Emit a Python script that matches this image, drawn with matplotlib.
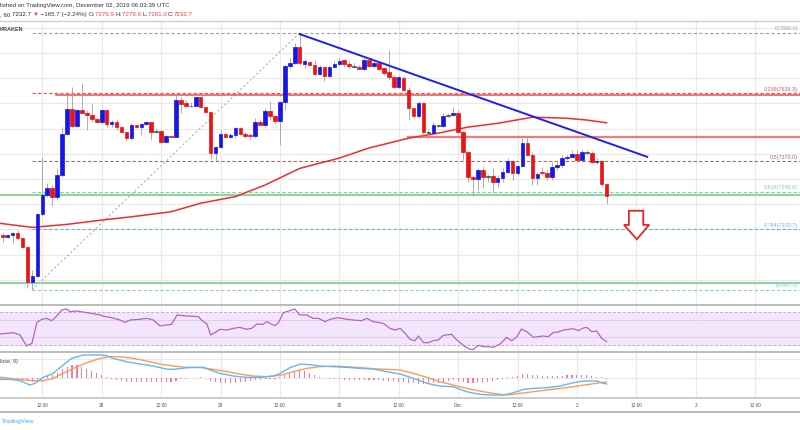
import matplotlib
matplotlib.use("Agg")
import matplotlib.pyplot as plt
from matplotlib.lines import Line2D
from matplotlib.patches import Polygon
import numpy as np

plt.rcParams['font.family'] = ['Liberation Sans', 'DejaVu Sans']

# BTC/USD Kraken, 60 min candles; hour 0 = 28 Nov 2019 00:00 UTC
hours = list(range(-20, 103))
opens = [7079, 7071, 7077, 7087, 7067, 7031, 6892, 6915, 7160, 7236,
         7263, 7227, 7315, 7477, 7576, 7510, 7574, 7563, 7554, 7537,
         7525, 7574, 7518, 7527, 7505, 7488, 7461, 7514, 7507, 7518,
         7525, 7488, 7490, 7447, 7472, 7468, 7613, 7600, 7589, 7591,
         7624, 7584, 7565, 7402, 7428, 7480, 7466, 7474, 7501, 7480,
         7476, 7470, 7526, 7516, 7571, 7549, 7529, 7605, 7747, 7760,
         7822, 7756, 7763, 7754, 7718, 7743, 7708, 7743, 7757, 7773,
         7756, 7747, 7744, 7737, 7772, 7747, 7759, 7739, 7726, 7706,
         7666, 7700, 7655, 7580, 7551, 7600, 7485, 7482, 7514, 7511,
         7550, 7554, 7563, 7487, 7408, 7309, 7299, 7336, 7309, 7311,
         7287, 7303, 7329, 7371, 7322, 7353, 7441, 7395, 7303, 7328,
         7322, 7307, 7349, 7355, 7384, 7388, 7398, 7375, 7406, 7404,
         7366, 7373, 7279.9]
highs = [7087, 7080, 7091, 7098, 7070, 7034, 6939, 7165, 7388, 7284,
         7276, 7344, 7507, 7633, 7666, 7576, 7680, 7574, 7601, 7542,
         7576, 7578, 7534, 7537, 7510, 7490, 7521, 7516, 7523, 7531,
         7527, 7501, 7494, 7474, 7474, 7642, 7626, 7613, 7607, 7626,
         7626, 7587, 7567, 7431, 7494, 7488, 7482, 7505, 7505, 7486,
         7482, 7542, 7534, 7581, 7608, 7555, 7605, 7754, 7780, 7839,
         7879, 7776, 7769, 7773, 7751, 7747, 7751, 7767, 7780, 7777,
         7767, 7760, 7752, 7780, 7779, 7768, 7764, 7744, 7812, 7712,
         7708, 7708, 7664, 7581, 7609, 7607, 7495, 7526, 7520, 7562,
         7560, 7585, 7574, 7490, 7410, 7312, 7342, 7351, 7320, 7344,
         7316, 7344, 7383, 7375, 7355, 7461, 7468, 7407, 7328, 7347,
         7336, 7367, 7367, 7395, 7395, 7415, 7415, 7419, 7415, 7411,
         7383, 7375, 7279.9]
lows = [7051, 7065, 7045, 7058, 7026, 6867, 6860, 6911, 7153, 7228,
        7193, 7216, 7309, 7474, 7507, 7507, 7560, 7494, 7527, 7521,
        7518, 7507, 7507, 7494, 7481, 7452, 7455, 7501, 7474, 7514,
        7455, 7481, 7443, 7445, 7465, 7468, 7563, 7587, 7586, 7589,
        7580, 7561, 7378, 7373, 7422, 7462, 7462, 7462, 7474, 7462,
        7460, 7462, 7514, 7502, 7535, 7520, 7434, 7575, 7740, 7756,
        7754, 7740, 7749, 7714, 7714, 7690, 7703, 7740, 7754, 7743,
        7738, 7740, 7735, 7734, 7745, 7740, 7732, 7712, 7693, 7660,
        7661, 7650, 7534, 7546, 7542, 7465, 7470, 7478, 7505, 7508,
        7545, 7550, 7482, 7375, 7289, 7232, 7256, 7264, 7290, 7250,
        7269, 7288, 7324, 7296, 7316, 7347, 7392, 7276, 7276, 7316,
        7296, 7296, 7336, 7344, 7375, 7383, 7371, 7367, 7395, 7362,
        7359, 7269, 7201.0]
closes = [7071, 7077, 7087, 7067, 7031, 6892, 6915, 7160, 7236, 7263,
          7227, 7315, 7477, 7576, 7510, 7574, 7563, 7554, 7537, 7525,
          7574, 7518, 7527, 7505, 7488, 7461, 7514, 7507, 7518, 7525,
          7488, 7490, 7447, 7472, 7468, 7613, 7597, 7589, 7591, 7624,
          7584, 7565, 7402, 7428, 7478, 7468, 7474, 7501, 7480, 7470,
          7470, 7526, 7516, 7571, 7549, 7529, 7605, 7747, 7760, 7822,
          7760, 7767, 7754, 7718, 7743, 7708, 7743, 7757, 7769, 7756,
          7747, 7746, 7737, 7771, 7749, 7759, 7736, 7722, 7706, 7666,
          7703, 7655, 7580, 7551, 7600, 7485, 7482, 7514, 7511, 7550,
          7553, 7563, 7487, 7408, 7309, 7299, 7336, 7309, 7311, 7287,
          7303, 7329, 7371, 7322, 7353, 7441, 7395, 7303, 7320, 7322,
          7307, 7349, 7355, 7384, 7388, 7398, 7375, 7406, 7404, 7366,
          7373, 7280, 7232.7]

# 100 SMA
sma_h = [-20.5, -14, -7, 0, 6, 14, 20, 27, 33, 40, 48, 54, 62, 68, 74, 80, 87, 91, 94, 98, 102]
sma_v = [7124, 7108, 7120, 7137, 7150, 7170, 7204, 7230, 7276, 7342, 7383, 7423, 7462, 7482,
         7506, 7521, 7545, 7543, 7541, 7534, 7523]

# fibonacci retracement (low -> high) and drawn levels
fib_low, fib_high = 6860.0, 7880.0
fib_levels = [0, 0.236, 0.5, 0.618, 0.764, 1]
resistance = [7633, 7465]
support = [7238, 6888]
trend_h = [40, 110.2]
trend_p = [7875, 7388]

# RSI (14)
rsi_h = [-20.5, -17.9, -16.5, -15.2, -14.1, -13.1, -12.1, -11.1, -10.1, -9.1,
         -8.1, -7.1, -6.4, -5.0, -3.0, -1.4, -0.3, 0.7, 1.7, 3.7,
         4.7, 5.7, 7.7, 9.1, 10.4, 11.8, 13.1, 14.1, 15.2, 17.2,
         19.5, 20.5, 21.2, 22.0, 23.2, 23.9, 25.3, 26.6, 27.9, 29.3,
         30.3, 31.3, 32.6, 33.3, 35.0, 35.7, 36.7, 38.0, 39.0, 40.0,
         41.4, 42.7, 43.8, 45.1, 46.1, 47.8, 49.5, 50.8, 52.5, 53.5,
         54.9, 56.9, 58.2, 59.3, 60.3, 61.3, 62.3, 63.3, 64.0, 65.0,
         66.0, 67.0, 68.0, 69.0, 70.7, 71.4, 72.4, 73.4, 74.4, 75.1,
         76.1, 77.1, 78.1, 79.1, 80.5, 81.8, 82.8, 83.8, 84.8, 85.9,
         87.2, 88.2, 89.2, 90.2, 91.2, 92.2, 93.3, 94.3, 95.3, 96.3,
         97.3, 98.0, 99.0, 100.0, 101.0, 102.0]
rsi_v = [43.2, 44.8, 42, 28.8, 32, 57.2, 60.8, 62, 59.2, 64.8,
         72, 73.2, 70, 70.8, 68.8, 67.2, 66, 64, 63.2, 60,
         57.2, 60, 60.8, 62, 60, 52.8, 54, 54.8, 66, 64.8,
         64, 58, 56, 42, 46, 48.8, 48, 50, 51.2, 48.8,
         50, 55.2, 54.8, 58, 53.2, 56.8, 68.8, 71.2, 73.2, 66,
         66, 62, 62, 58, 60.8, 62.8, 60.8, 60, 59.2, 62,
         58, 56, 50, 48, 50, 44, 36.8, 35.2, 40.8, 32.8,
         32.8, 35.2, 36, 41.6, 42.8, 38, 32.8, 28, 24.8, 24.8,
         29.6, 28, 28, 27.2, 31.2, 39.2, 35.2, 39.2, 49.2, 46,
         39.2, 40, 40.8, 40, 44.8, 45.6, 48, 48.8, 49.6, 47.2,
         50.4, 51.2, 46, 46.8, 38, 34]

# MACD (12, 26, close, 9)
macd_h = [-20.5, -18.5, -16.5, -14.5, -13.5, -11.8, -9.8, -7.8, -6.1, -3.7,
          -0.3, 1.0, 2.3, 5.0, 7.7, 10.4, 13.1, 14.5, 17.2, 20.5,
          21.9, 23.9, 26.6, 29.3, 32.0, 34.7, 36.0, 38.0, 40.1, 42.1,
          44.1, 46.8, 49.5, 52.2, 54.9, 57.6, 60.3, 63.0, 65.7, 68.3,
          71.0, 73.7, 76.4, 79.1, 81.1, 83.2, 85.2, 87.2, 89.9, 92.6,
          95.3, 97.3, 100.0, 101.0, 102.0]
macd_v = [-2.1, -2.1, -4.8, -13.5, -10.1, 1.9, 9.9, 26.5, 39.9, 46.6,
          46.6, 45.2, 39.9, 33.2, 28.5, 24.5, 18.5, 17.9, 21.2, 21.9,
          16.6, 9.9, 4.5, 1.9, 1.9, 4.5, 9.9, 21.2, 28.5, 27.2,
          24.5, 23.2, 21.9, 19.9, 18.5, 13.2, 8.5, -0.1, -10.1, -15.5,
          -16.8, -26.8, -32.1, -33.5, -33.5, -28.8, -22.2, -20.2, -18.8, -15.5,
          -8.8, -5.5, -5.5, -8.8, -11.5]
sig_h = [-20.5, -16.5, -13.8, -11.8, -9.8, -7.8, -5.7, -3.0, -0.3, 1.7,
         3.7, 6.4, 9.1, 11.8, 14.5, 17.2, 19.9, 22.5, 25.3, 27.9,
         30.6, 33.3, 36.0, 38.7, 41.4, 44.1, 46.8, 49.5, 52.2, 54.9,
         57.6, 60.3, 63.0, 65.7, 68.3, 71.0, 73.7, 76.4, 79.1, 81.8,
         84.5, 87.2, 89.9, 92.6, 95.3, 98.0, 100.7, 102.0]
sig_v = [1.9, -2.1, -4.8, -4.8, -0.1, 9.9, 19.9, 31.2, 39.9, 43.2,
         43.2, 39.9, 34.5, 28.5, 24.5, 21.9, 21.9, 17.9, 13.2, 8.5,
         4.5, 3.2, 5.9, 13.2, 19.9, 23.2, 24.5, 23.2, 21.2, 19.2,
         17.9, 16.6, 9.9, 1.9, -6.8, -13.5, -20.2, -25.5, -30.2, -33.5,
         -30.2, -26.8, -23.5, -20.2, -16.8, -12.8, -8.8, -7.5]
hist = [-3.3, -3.3, -4, -4.7, -5.3, -6, -6.7, -3.3, 1.3, 4.7,
        7.3, 11.3, 18, 23.3, 26, 26, 23.3, 19.3, 15.3, 10,
        6, 2, -0.7, -3.3, -5.3, -6.7, -7.3, -8, -8, -8,
        -8, -7.3, -7.3, -7.3, -6.7, -4.7, -2, -0.7, 0, 1.3,
        2, 0, -4.7, -7.3, -9.3, -10, -10, -9.3, -8, -7.3,
        -6, -4, -2.7, -2, -1.3, -0.7, 2, 6.7, 11.3, 15.3,
        16.7, 14.7, 11.3, 7.3, 3.3, 0.7, -0.7, -1.3, -2, -2.7,
        -3.3, -3.3, -3.3, -2.7, -2.7, -3.3, -4, -4.7, -5.3, -6,
        -6.7, -6.7, -8.7, -10, -11.3, -12, -11.3, -10, -8.7, -6.7,
        -4.7, -4, -4.7, -6.7, -8.7, -10, -10, -8.7, -7.3, -6,
        -3.3, -0.7, 2, 2, 4.7, 8.7, 8.7, 6.7, 6, 4.7,
        4.7, 4.7, 4.7, 4.7, 6, 6, 6, 6, 6, 4.7,
        3.3, 2, -2]

time_ticks = [-12, 0, 12, 24, 36, 48, 60, 72, 84, 96, 108, 120, 132]
time_labels = ['12:00', '28', '12:00', '29', '12:00', '30', '12:00', 'Dec', '12:00', '2', '12:00', '3', '12:00']

W, H = 800, 430
X0, X1 = -20.55, 141.07


def fy(y):
    return 1 - y / H


def hx(h):
    return (101.7 + 4.95 * h) / W


fig = plt.figure(figsize=(8, 4.3), dpi=100)
grid = '#e9e9e9'

# ---- price pane
ax = fig.add_axes([0, fy(305), 1, (305 - 22) / H])
ax.set_xlim(X0, X1)
ax.set_ylim(6800, 7923)
ax.axis('off')
for p in range(6900, 8000, 100):
    ax.axhline(p, color=grid, lw=0.8, zorder=0)
for t in time_ticks:
    ax.axvline(t, color=grid, lw=0.8, zorder=0)

fib_cols = ['#a0a0a0', '#f05050', '#a07070', '#70d8a0', '#6ab4ec', '#8cc8f4']
for lv, col in zip(fib_levels, fib_cols):
    p = fib_high - lv * (fib_high - fib_low)
    ax.plot([-14.1, X1], [p, p], color=col, lw=0.8, ls=(0, (3, 2)), zorder=1)
    ax.annotate('%g(%.1f)' % (lv, p), xy=(1, p), xycoords=('axes fraction', 'data'),
                xytext=(-1.5, 1.2), textcoords='offset points',
                color=col, fontsize=3.9, va='bottom', ha='right')
ax.plot([-14.1, 40], [fib_low, fib_high], color='#b4b4b4', lw=0.8, ls=(0, (2, 2)), zorder=1)

for s in support:
    ax.axhline(s, color='#93d3a2', lw=1.6, zorder=2)
ax.plot([-9.2, X1], [resistance[0]] * 2, color='#f24848', lw=1.2, alpha=0.9, zorder=2)
ax.plot([61.9, X1], [resistance[1]] * 2, color='#f25a5a', lw=1.6, alpha=0.8, zorder=2)

ax.plot(sma_h, sma_v, color='#f02c2c', lw=1.1, zorder=3)

o = np.array(opens)
c = np.array(closes)
cols = ['#2d5c48' if abs(b - a) <= 3 else ('#1616e8' if b > a else '#ea1414') for a, b in zip(o, c)]
ax.vlines(hours, lows, highs, color='#a0a0a0', lw=0.6, zorder=4)
ax.bar(hours, c - o, bottom=o, width=0.72, color=cols, edgecolor=cols, linewidth=0.5, zorder=5)

ax.plot(trend_h, trend_p, color='#1f1ff5', lw=1.4, zorder=6)

arrow = [(106.5, 7174), (109.4, 7174), (109.4, 7118), (110.6, 7118),
         (108.1, 7061), (105.5, 7118), (106.5, 7118)]
ax.add_patch(Polygon(arrow, closed=True, facecolor='white', edgecolor='#ee2222', lw=1.3, zorder=6))

# ---- RSI pane
ar = fig.add_axes([0, fy(352), 1, 47 / H])
ar.set_xlim(X0, X1)
ar.set_ylim(21.6, 78.0)
ar.axis('off')
ar.axhspan(30, 70, color='#f3e6fc', zorder=0)
for t in time_ticks:
    ar.axvline(t, color=grid, lw=0.8, zorder=1)
for v in (60, 40):
    ar.axhline(v, color='#ddd0e8', lw=0.7, zorder=1)
for v in (70, 30):
    ar.axhline(v, color='#c4aed6', lw=0.7, ls=(0, (3, 2)), zorder=1)
ar.plot(rsi_h, rsi_v, color='#b462c8', lw=0.9, zorder=3)

# ---- MACD pane
am = fig.add_axes([0, fy(398), 1, 46 / H])
am.set_xlim(X0, X1)
am.set_ylim(-39.4, 52.6)
am.axis('off')
for t in time_ticks:
    am.axvline(t, color=grid, lw=0.8, zorder=0)
am.axhline(0, color=grid, lw=0.8, zorder=0)
am.axhline(38, color=grid, lw=0.8, zorder=0)
am.bar(hours, hist, width=0.22, color='#f27aa6', zorder=2)
am.plot(sig_h, sig_v, color='#ff9a55', lw=1.0, zorder=3)
am.plot(macd_h, macd_v, color='#62b8f4', lw=1.0, zorder=4)
fig.text(0, fy(361), 'lose, 9)', fontsize=3.9, color='#444', va='center')

# pane borders
for y, col, lw in [(21, '#cfcfcf', 1.0), (305, '#bcbcbc', 1.4), (352, '#bcbcbc', 1.4),
                   (398, '#c4c4c4', 1.2), (412, '#bcbcbc', 1.4)]:
    fig.add_artist(Line2D([0, 1], [fy(y), fy(y)], color=col, lw=lw))

for t, lab in zip(time_ticks, time_labels):
    fig.text(hx(t), fy(405.5), lab, fontsize=3.4, color='#555', ha='center', va='center')

# ---- header
fig.text(0, fy(6), 'lished on TradingView.com, December 02, 2019 06:03:39 UTC',
         fontsize=4.4, color='#333', va='center')
red = '#f04040'
dark = '#333'
pieces = [(', 60 ', dark), ('7232.7 ', '#222'), ('\u25bc', red),
          (' \u2212165.7 (\u22122.24%) ', dark), ('O:', dark), ('7279.9 ', red),
          ('H:', dark), ('7279.9 ', red), ('L:', dark), ('7201.0 ', red),
          ('C:', dark), ('7232.7', red)]
renderer = fig.canvas.get_renderer()
xpos = 0.0
for s, col in pieces:
    t = fig.text(xpos / W, fy(14.5), s, fontsize=4.4, color=col, va='center')
    xpos += t.get_window_extent(renderer).width
fig.text(0, fy(29.5), 'KRAKEN', fontsize=4.0, color='#444', va='center', fontweight='bold')
fig.text(2 / W, fy(421), 'TradingView', fontsize=4.2, color='#3ea6f2', va='center')

fig.savefig('out.png', dpi=100)
